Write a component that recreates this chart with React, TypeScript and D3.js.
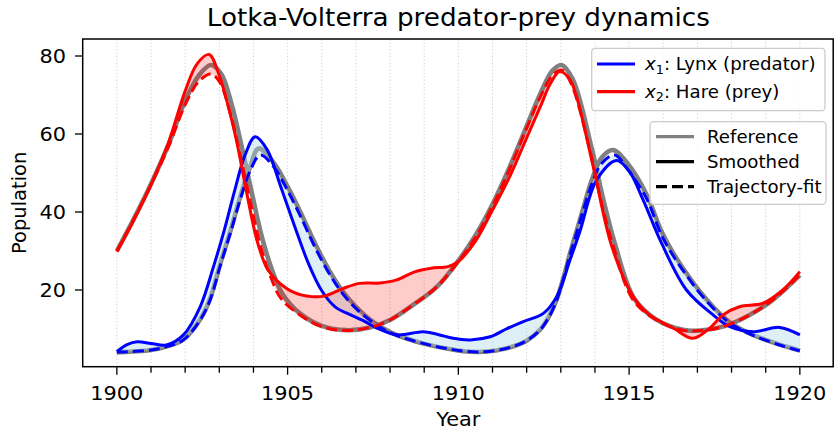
import React from "react";
import * as d3 from "d3";

type Pt = [number, number];

const TITLE = "Lotka-Volterra predator-prey dynamics";
const X_LABEL = "Year";
const Y_LABEL = "Population";
const xMajorTicks = [1900, 1905, 1910, 1915, 1920];
const xMinorTicks = d3.range(1900, 1921);
const yTicks = [20, 40, 60, 80];

// Lynx (predator) x1
const lynxReference: Pt[] = [
  [1900, 4.0], [1901, 4.6], [1901.5, 5.6], [1901.95, 7.3], [1902.44, 12.5], [1902.73, 17.8],
  [1903.02, 26.5], [1903.32, 35], [1903.61, 43.8], [1903.9, 51.5], [1904.15, 56.3], [1904.6, 52.5],
  [1905.0, 46.5], [1905.4, 39.5], [1905.8, 32], [1906.2, 25.3], [1906.6, 19.8], [1907.0, 15.7],
  [1907.4, 12.5], [1907.8, 10.2], [1908.2, 8.4], [1908.68, 7.0], [1909.2, 5.8],
  [1909.66, 5.0], [1910.15, 4.3], [1910.6, 4.1], [1911.1, 4.5], [1911.6, 5.5], [1912, 7],
  [1912.39, 9.8], [1912.65, 13.2], [1912.88, 17.6], [1913.1, 23.8], [1913.27, 29.4], [1913.46, 35],
  [1913.66, 41], [1913.9, 48], [1914.2, 54], [1914.53, 55.9], [1914.95, 52.5], [1915.51, 44.5],
  [1915.95, 35], [1916.29, 29.5], [1916.7, 24], [1917.07, 19.6], [1917.5, 15.3], [1917.95, 11.7],
  [1918.35, 9.6], [1918.73, 8.1], [1919.41, 6], [1920, 4.5],
];
const lynxSmoothed: Pt[] = [
  [1900, 4.2], [1900.3, 6.0], [1900.6, 6.7], [1901.0, 6.3], [1901.45, 5.9], [1901.95, 8.5],
  [1902.44, 15.7], [1902.83, 26], [1903.15, 35.5], [1903.45, 45.5], [1903.75, 54.5], [1904.05, 59.3],
  [1904.4, 56], [1904.8, 46.5], [1905.2, 36.5], [1905.6, 27], [1906.0, 19.8], [1906.4, 15.6],
  [1906.8, 13.8], [1907.2, 12.2], [1907.6, 10.3], [1908.2, 8.5], [1908.97, 9.3], [1909.4, 8.6],
  [1909.85, 7.6], [1910.35, 7.2], [1910.93, 8.0], [1911.4, 10], [1911.9, 11.9], [1912.49, 14],
  [1912.88, 18.3], [1913.27, 27.7], [1913.56, 35], [1914.05, 48.2], [1914.63, 53.2], [1915.0, 50.5],
  [1915.41, 43.1], [1915.95, 32], [1916.68, 20], [1917.46, 13.6], [1917.95, 10.6], [1918.63, 9.3],
  [1919.41, 10.4], [1920, 8.5],
];
const lynxFit: Pt[] = [
  [1900, 4.1], [1901, 4.6], [1901.5, 5.6], [1901.95, 7.2], [1902.44, 12.3], [1902.73, 17.4],
  [1903.02, 26], [1903.32, 34.5], [1903.61, 43.1], [1903.9, 50.5], [1904.2, 54.6], [1904.6, 51.5],
  [1905.0, 45.5], [1905.4, 38.5], [1905.8, 31], [1906.2, 24.5], [1906.6, 19.2], [1907.0, 15.3],
  [1907.4, 12.3], [1907.8, 10.0], [1908.2, 8.3], [1908.68, 7.0], [1909.2, 5.8],
  [1909.66, 5.0], [1910.15, 4.3], [1910.6, 4.1], [1911.1, 4.5], [1911.6, 5.5], [1912.0, 7],
  [1912.39, 9.7], [1912.65, 13], [1912.88, 17.4], [1913.1, 23.5], [1913.27, 29], [1913.46, 34.5],
  [1913.66, 40.5], [1913.9, 47], [1914.2, 52.5], [1914.58, 54.6], [1914.95, 51], [1915.51, 43.5],
  [1915.95, 34], [1916.29, 28.8], [1916.7, 23.5], [1917.07, 19.2], [1917.5, 15], [1917.95, 11.5],
  [1918.35, 9.5], [1918.73, 8], [1919.41, 5.9], [1920, 4.4],
];

// Hare (prey) x2
const hareReference: Pt[] = [
  [1900, 30], [1900.5, 38.3], [1901, 47.2], [1901.5, 57], [1902, 68.5], [1902.4, 75], [1902.75, 77.7],
  [1903.05, 75.5], [1903.35, 68], [1903.65, 57], [1903.95, 45], [1904.25, 33.5], [1904.55, 25],
  [1904.85, 19], [1905.36, 14], [1906, 10.8], [1906.73, 9.7], [1907.41, 10.4], [1908, 12.3],
  [1908.68, 16.2], [1909.37, 20.8], [1910, 27.5], [1910.5, 34], [1911, 42], [1911.5, 51.5],
  [1912, 62], [1912.4, 70.3], [1912.75, 76.2], [1913.02, 77.7], [1913.35, 74], [1913.9, 56.5], [1914.25, 43],
  [1914.58, 32], [1915.15, 17.8], [1915.8, 12.4], [1916.58, 9.8], [1917.07, 9.6], [1917.75, 10.6],
  [1918.53, 13.6], [1919.2, 17.4], [1920, 23.8],
];
const hareSmoothed: Pt[] = [
  [1900, 29.8], [1900.5, 38], [1901, 47], [1901.5, 57.5], [1902, 71], [1902.35, 78], [1902.7, 80.4],
  [1903, 75], [1903.25, 67.5], [1903.5, 58.5], [1903.8, 45], [1904.1, 32.8], [1904.4, 25.5],
  [1904.7, 22.3], [1905.2, 19.3], [1905.7, 18.3], [1906.1, 18.5], [1906.6, 20.3], [1907.1, 21.7],
  [1907.7, 21.8], [1908.2, 22.6], [1908.7, 24.6], [1909.2, 25.6], [1909.7, 26], [1910, 27.3],
  [1910.5, 32.5], [1911, 40.5], [1911.5, 49], [1912, 59], [1912.4, 67], [1912.7, 73], [1912.97, 76],
  [1913.25, 74.2], [1913.46, 69.6], [1913.95, 51.6], [1914.5, 31], [1915.12, 18.3], [1915.6, 13.6],
  [1916.3, 10.2], [1916.87, 7.6], [1917.36, 10.2], [1917.75, 13.6], [1918.23, 15.7], [1918.92, 16.6],
  [1919.5, 20], [1920, 24.7],
];
const hareFit: Pt[] = [
  [1900, 30], [1900.5, 38.2], [1901, 47], [1901.5, 56.5], [1902, 67.5], [1902.4, 73.5], [1902.75, 75.4],
  [1903, 73.5], [1903.3, 66], [1903.6, 55], [1903.9, 43], [1904.2, 31.5], [1904.5, 23.5], [1904.8, 17.9],
  [1905.36, 13.6], [1906, 10.6], [1906.73, 9.6], [1907.41, 10.4], [1908, 12.3], [1908.68, 16.2],
  [1909.37, 20.8], [1910, 27.3], [1910.5, 33.5], [1911, 41.5], [1911.5, 51], [1912, 61.5],
  [1912.4, 69.5], [1912.75, 75], [1913.02, 76.4], [1913.3, 73], [1913.85, 55.9], [1914.2, 42], [1914.53, 31.5],
  [1915.12, 17.4], [1915.8, 12.3], [1916.58, 9.7], [1917.07, 9.6], [1917.75, 10.6], [1918.53, 13.6],
  [1919.2, 17.4], [1920, 23.8],
];

const legendSpecies = [
  { sym: "x", sub: "1", label: ": Lynx (predator)", color: "#0000ff" },
  { sym: "x", sub: "2", label: ": Hare (prey)", color: "#ff0000" },
];
const legendStyles = [
  { label: "Reference", color: "#808080", dash: "", width: 3.2 },
  { label: "Smoothed", color: "#000000", dash: "", width: 3.2 },
  { label: "Trajectory-fit", color: "#000000", dash: "11,5", width: 3.2 },
];

const FONT = "'DejaVu Sans', sans-serif";
const SX = 1.07;

const STX = (props: { x: number; y: number; size: number; anchor?: string; children: React.ReactNode; sx?: number }) => {
  const s = props.sx ?? SX;
  return (
    <text
      transform={`translate(${props.x},${props.y}) scale(${s},1)`}
      fontFamily={FONT}
      fontSize={props.size}
      textAnchor={props.anchor ?? "start"}
      fill="#000"
    >
      {props.children}
    </text>
  );
};

export default function App() {
  const W = 834, H = 430;
  const left = 82.7, right = 834, top = 39, bottom = 366.7;
  const x = d3.scaleLinear().domain([1899, 1921]).range([left, right]);
  const y = d3.scaleLinear().domain([0.33, 84.36]).range([bottom, top]);

  const line = d3
    .line<Pt>()
    .x((d) => x(d[0]))
    .y((d) => y(d[1]))
    .curve(d3.curveCatmullRom.alpha(0.5));

  const band = (a: Pt[], b: Pt[]) => {
    const pa = line(a) as string;
    const pb = line([...b].reverse()) as string;
    return pa + "L" + pb.slice(1) + "Z";
  };

  const clipId = "plotclip";

  return (
    <svg width={W} height={H} style={{ position: "absolute", left: 0, top: 0, background: "#fff" }}>
      <defs>
        <clipPath id={clipId}>
          <rect x={left} y={top} width={right - left} height={bottom - top} />
        </clipPath>
      </defs>
      <rect x={0} y={0} width={W} height={H} fill="#fff" />

      {xMinorTicks.map((t) => (
        <line key={"g" + t} x1={x(t)} x2={x(t)} y1={top} y2={bottom} stroke="#cfcfcf" strokeWidth={1} strokeDasharray="1.2,2.2" />
      ))}

      <g clipPath={`url(#${clipId})`}>
        <path d={line(lynxReference) as string} fill="none" stroke="#808080" strokeWidth={4.6} />
        <path d={line(hareReference) as string} fill="none" stroke="#808080" strokeWidth={4.6} />
        <path d={band(lynxSmoothed, lynxFit)} fill="#add8e6" fillOpacity={0.4} stroke="none" />
        <path d={band(hareSmoothed, hareFit)} fill="#ff0000" fillOpacity={0.2} stroke="none" />
        <path d={line(lynxSmoothed) as string} fill="none" stroke="#0000ff" strokeWidth={3} />
        <path d={line(lynxFit) as string} fill="none" stroke="#0000ff" strokeWidth={3} strokeDasharray="11,5" />
        <path d={line(hareSmoothed) as string} fill="none" stroke="#ff0000" strokeWidth={3} />
        <path d={line(hareFit) as string} fill="none" stroke="#ff0000" strokeWidth={3} strokeDasharray="11,5" />
      </g>

      <rect x={left} y={top} width={right - left - 0.8} height={bottom - top} fill="none" stroke="#000" strokeWidth={1.5} />

      {xMinorTicks.map((t) => (
        <line key={"xt" + t} x1={x(t)} x2={x(t)} y1={bottom} y2={bottom + (xMajorTicks.includes(t) ? 8 : 6)} stroke="#000" strokeWidth={1.3} />
      ))}
      {xMajorTicks.map((t) => (
        <STX key={"xl" + t} x={x(t)} y={399.5} size={19.5} anchor="middle">{t}</STX>
      ))}
      {yTicks.map((t) => (
        <g key={"yt" + t}>
          <line x1={left - 7.7} x2={left} y1={y(t)} y2={y(t)} stroke="#000" strokeWidth={1.3} />
          <STX x={66} y={y(t) + 7} size={19.5} anchor="end">{t}</STX>
        </g>
      ))}

      <STX x={(left + right) / 2} y={26} size={24.5} anchor="middle">{TITLE}</STX>
      <STX x={(left + right) / 2} y={426} size={19.5} anchor="middle">{X_LABEL}</STX>
      <text
        transform={`translate(26,${(top + bottom) / 2}) rotate(-90)`}
        fontFamily={FONT}
        fontSize={19.5}
        textAnchor="middle"
      >
        {Y_LABEL}
      </text>

      <rect x={591.7} y={48.3} width={233.3} height={62.4} rx={3.5} fill="#fff" fillOpacity={0.8} stroke="#cccccc" strokeWidth={1.3} />
      {legendSpecies.map((s, i) => {
        const cy = 64 + i * 27.7;
        return (
          <g key={"ls" + i}>
            <line x1={597} x2={635} y1={cy} y2={cy} stroke={s.color} strokeWidth={3.2} />
            <text transform={`translate(645,${cy + 6}) scale(1.07,1)`} fontFamily={FONT} fontSize={17}>
              <tspan fontStyle="italic">{s.sym}</tspan>
              <tspan fontSize={12} dy={3.5}>{s.sub}</tspan>
              <tspan dy={-3.5}>{s.label}</tspan>
            </text>
          </g>
        );
      })}

      <rect x={650} y={121.7} width={176} height={82.6} rx={3.5} fill="#fff" fillOpacity={0.8} stroke="#cccccc" strokeWidth={1.3} />
      {legendStyles.map((s, i) => {
        const cy = 136.7 + i * 25;
        return (
          <g key={"lst" + i}>
            <line x1={656} x2={694} y1={cy} y2={cy} stroke={s.color} strokeWidth={s.width} strokeDasharray={s.dash || undefined} />
            <text transform={`translate(707,${cy + 6}) scale(1.07,1)`} fontFamily={FONT} fontSize={17}>
              {s.label}
            </text>
          </g>
        );
      })}
    </svg>
  );
}
